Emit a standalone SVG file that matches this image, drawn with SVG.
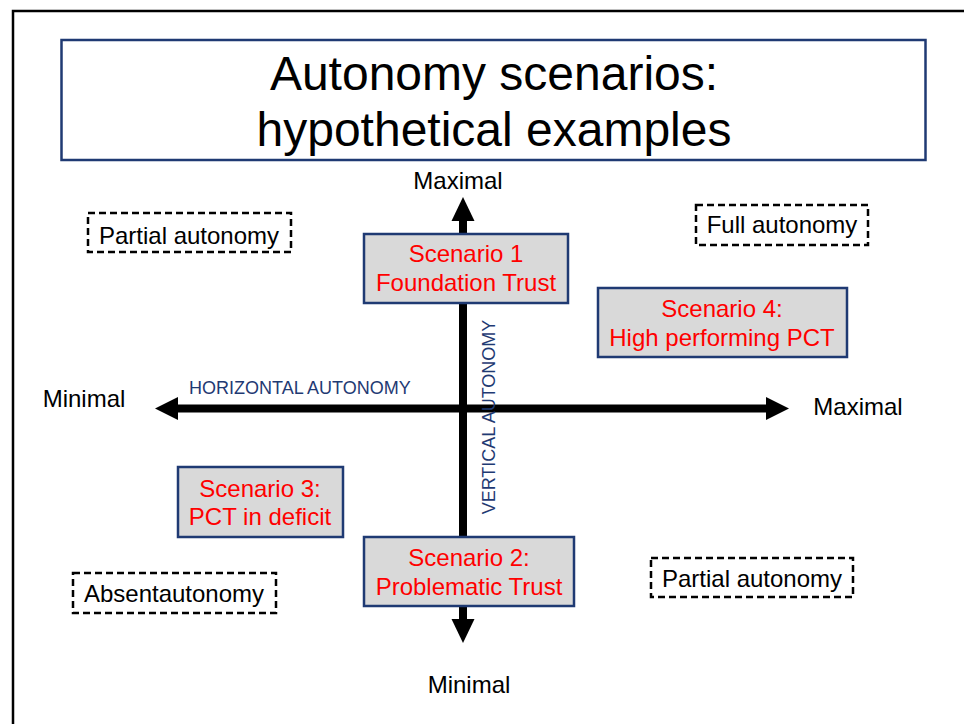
<svg xmlns="http://www.w3.org/2000/svg" width="964" height="724" viewBox="0 0 964 724">
<style>
text{font-family:"Liberation Sans",Arial,sans-serif;}
.lbl{font-size:24px;fill:#000;text-anchor:middle;}
.red{font-size:24px;fill:#FF0000;text-anchor:middle;}
.axis{font-size:18px;fill:#1F3A73;}
.scen{fill:#D9D9D9;stroke:#1F3A73;stroke-width:2.5;}
.dash{fill:#fff;stroke:#000;stroke-width:2.5;stroke-dasharray:7 4;}
.ax{stroke:#000;stroke-width:8;fill:none;}
</style>
<rect width="964" height="724" fill="#fff"/>
<path d="M13,724 V11 H964" fill="none" stroke="#000" stroke-width="2.5"/>
<g id="title">
<rect x="61.5" y="40" width="864" height="120" fill="#fff" stroke="#1F3A73" stroke-width="2.5"/>
<text x="494" y="90" font-size="48" text-anchor="middle">Autonomy scenarios:</text>
<text x="494" y="146" font-size="48" text-anchor="middle">hypothetical examples</text>
</g>
<g id="connectors">
<line class="ax" x1="175" y1="408.5" x2="768" y2="408.5"/>
<polygon points="155,408.5 178,397 178,420"/>
<polygon points="789,408.5 766,397 766,420"/>
<line class="ax" x1="463" y1="218" x2="463" y2="622"/>
<polygon points="463,197 451.5,221 474.5,221"/>
<polygon points="463,643 451.5,619 474.5,619"/>
</g>
<g id="axis-labels">
<text class="lbl" x="458" y="189">Maximal</text>
<text class="lbl" x="469" y="693">Minimal</text>
<text class="lbl" x="84" y="407">Minimal</text>
<text class="lbl" x="858" y="415">Maximal</text>
<text class="axis" x="189" y="394">HORIZONTAL AUTONOMY</text>
<text class="axis" transform="translate(495,417) rotate(-90)" text-anchor="middle">VERTICAL AUTONOMY</text>
</g>
<g id="scenario1">
<rect class="scen" x="364" y="234" width="204" height="69"/>
<text class="red" x="466" y="262">Scenario 1</text>
<text class="red" x="466" y="291">Foundation Trust</text>
</g>
<g id="scenario4">
<rect class="scen" x="598" y="288" width="249" height="69"/>
<text class="red" x="722" y="317">Scenario 4:</text>
<text class="red" x="722" y="346">High performing PCT</text>
</g>
<g id="scenario3">
<rect class="scen" x="178" y="467" width="165" height="70"/>
<text class="red" x="260" y="497">Scenario 3:</text>
<text class="red" x="260" y="525">PCT in deficit</text>
</g>
<g id="scenario2">
<rect class="scen" x="364" y="537" width="210" height="69"/>
<text class="red" x="469" y="566">Scenario 2:</text>
<text class="red" x="469" y="595">Problematic Trust</text>
</g>
<g id="partial-top-left">
<rect class="dash" x="88" y="213" width="203" height="39"/>
<text class="lbl" x="189" y="244">Partial autonomy</text>
</g>
<g id="full">
<rect class="dash" x="696" y="205" width="172" height="40"/>
<text class="lbl" x="782" y="233">Full autonomy</text>
</g>
<g id="partial-bottom-right">
<rect class="dash" x="651" y="558" width="202" height="39"/>
<text class="lbl" x="752" y="587">Partial autonomy</text>
</g>
<g id="absent">
<rect class="dash" x="73" y="573" width="203" height="40"/>
<text class="lbl" x="174" y="602">Absentautonomy</text>
</g>
</svg>
